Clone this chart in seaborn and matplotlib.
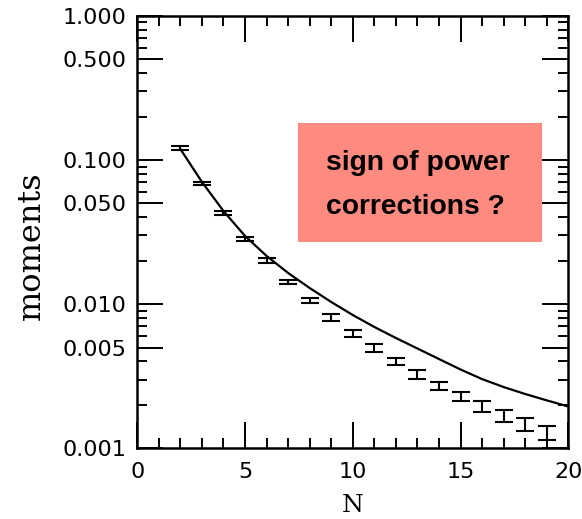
import matplotlib
matplotlib.use("Agg")
import matplotlib.pyplot as plt
import matplotlib.ticker as mticker
from matplotlib.patches import Rectangle
import numpy as np
import pandas as pd
import seaborn as sns

# Lattice moments with statistical errors
n_data = [2, 3, 4, 5, 6, 7, 8, 9, 10, 11, 12, 13, 14, 15, 16, 17, 18, 19]
moments = [0.1209, 0.0688, 0.04281, 0.02841, 0.01997, 0.01423, 0.01054, 0.00805,
           0.00627, 0.00496, 0.00399, 0.00328, 0.00270, 0.00231, 0.00197, 0.00168,
           0.00147, 0.00128]
moment_err = [0.00425, 0.00187, 0.00137, 0.00091, 0.00080, 0.000455, 0.00042, 0.000425,
              0.00033, 0.000294, 0.00021, 0.000236, 0.000173, 0.000166, 0.000173,
              0.000161, 0.000153, 0.000143]

# Perturbative prediction
n_curve = [2, 3, 4, 5, 6, 7, 8, 9, 10, 11, 12, 13, 14, 15, 16, 17, 18, 19, 20]
curve = [0.1190, 0.0703, 0.04420, 0.02967, 0.02157, 0.01643, 0.01293, 0.01034,
         0.00840, 0.00694, 0.00582, 0.00492, 0.00416, 0.00352, 0.00302, 0.00266,
         0.00238, 0.00215, 0.00195]

y_ticks = [1.0, 0.5, 0.1, 0.05, 0.01, 0.005, 0.001]
y_tick_labels = ["1.000", "0.500", "0.100", "0.050", "0.010", "0.005", "0.001"]
x_ticks = [0, 5, 10, 15, 20]

note_lines = ["sign of power", "corrections ?"]

sns.set_style("ticks")
plt.rcParams.update({
    "font.family": ["DejaVu Sans"],
    "text.color": "black",
    "axes.labelcolor": "black",
    "xtick.color": "black",
    "ytick.color": "black",
})

fig = plt.figure(figsize=(5.82, 5.19), dpi=100)
ax = fig.add_axes([0.2359, 0.1362, 0.7406, 0.8335])

curve_df = pd.DataFrame({"N": n_curve, "moment": curve})
sns.lineplot(data=curve_df, x="N", y="moment", ax=ax, color="black", lw=1.6,
             sort=False, estimator=None)

ax.errorbar(n_data, moments, yerr=moment_err, fmt="none", ecolor="black",
            elinewidth=1.5, capsize=6.2, capthick=1.5)

ax.set_yscale("log")
ax.set_xlim(0, 20)
ax.set_ylim(0.001, 1.0)

ax.yaxis.set_major_locator(mticker.FixedLocator(y_ticks))
ax.yaxis.set_major_formatter(mticker.FixedFormatter(y_tick_labels))
minor_y = [m * 10.0 ** e for e in (-3, -2, -1) for m in (2, 3, 4, 6, 7, 8, 9)]
ax.yaxis.set_minor_locator(mticker.FixedLocator(minor_y))
ax.yaxis.set_minor_formatter(mticker.NullFormatter())

ax.xaxis.set_major_locator(mticker.FixedLocator(x_ticks))
ax.xaxis.set_minor_locator(mticker.MultipleLocator(1))

ax.tick_params(which="both", direction="in", top=True, right=True)
ax.tick_params(which="major", length=18.5, width=1.4, pad=10)
ax.tick_params(which="minor", length=7, width=1.4)
ax.tick_params(axis="y", which="major", pad=8)
for lab in ax.get_xticklabels() + ax.get_yticklabels():
    lab.set_fontsize(16)
    lab.set_color("black")

for sp in ax.spines.values():
    sp.set_linewidth(1.8)
    sp.set_color("black")

ax.set_xlabel("N", family="DejaVu Serif", fontsize=18, color="black")
ax.set_ylabel("moments", family="DejaVu Serif", fontsize=23, color="black")
ax.xaxis.set_label_coords(0.5, -0.106)
ax.yaxis.set_label_coords(-0.21, 0.468)

ax.add_patch(Rectangle((0.3729, 0.4776), 0.5654, 0.2737, transform=ax.transAxes,
                       facecolor="#FF8B80", edgecolor="none", zorder=1))
for line_text, y_pos in zip(note_lines, (0.6433, 0.5416)):
    ax.text(0.4378, y_pos, line_text, transform=ax.transAxes, ha="left",
            va="baseline", fontsize=20.3, fontweight="bold", color="black",
            family="Liberation Sans", zorder=2)

fig.savefig("out.png", dpi=100)
